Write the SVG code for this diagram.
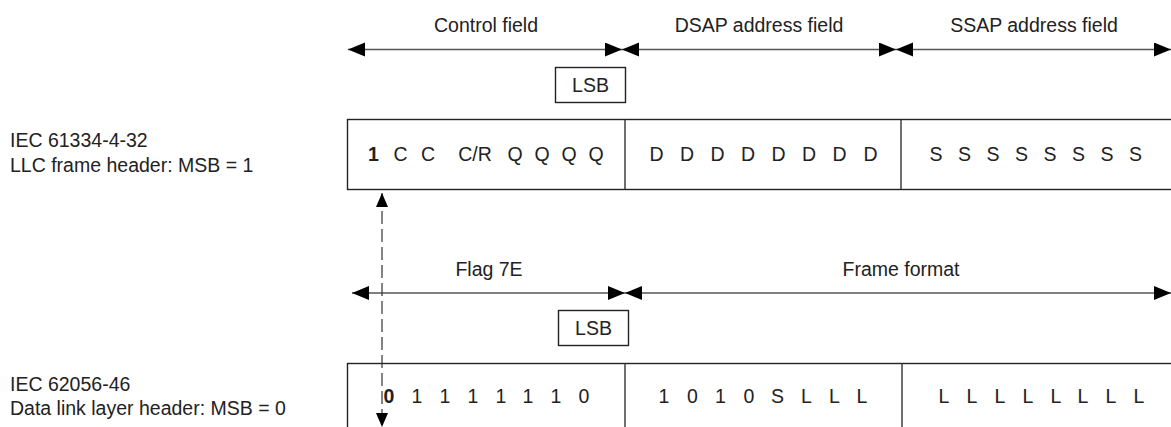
<svg xmlns="http://www.w3.org/2000/svg" width="1171" height="427" viewBox="0 0 1171 427">
<style>
text{font-family:"Liberation Sans",Arial,sans-serif;font-size:19.5px;fill:#222}
.m{text-anchor:middle}
.b{font-weight:bold}
.box{fill:#fff;stroke:#222;stroke-width:1.4}
.div{stroke:#333;stroke-width:1.4}
.arr{stroke:#555;stroke-width:1.4;fill:none;marker-start:url(#ah);marker-end:url(#ah)}
.dash{stroke:#333;stroke-width:1.2;stroke-dasharray:13 5;fill:none;marker-start:url(#ah2);marker-end:url(#ah2)}
</style>
<defs>
<marker id="ah" markerUnits="userSpaceOnUse" markerWidth="19" markerHeight="15" refX="17" refY="7" orient="auto-start-reverse" viewBox="0 0 19 15">
<path d="M0,0 L17,7 L0,14 z" fill="#000"/>
</marker>
<marker id="ah2" markerUnits="userSpaceOnUse" markerWidth="15" markerHeight="13" refX="14" refY="6" orient="auto-start-reverse" viewBox="0 0 15 13">
<path d="M0,0 L14,6 L0,12 z" fill="#000"/>
</marker>
</defs>

<g id="labels-left">
<text x="10" y="147">IEC 61334-4-32</text>
<text x="10" y="172">LLC frame header: MSB = 1</text>
<text x="10" y="391">IEC 62056-46</text>
<text x="10" y="415">Data link layer header: MSB = 0</text>
</g>

<g id="field-labels-top">
<text class="m" x="486" y="32">Control field</text>
<text class="m" x="759" y="32">DSAP address field</text>
<text class="m" x="1034" y="32">SSAP address field</text>
</g>

<g id="lsb-top">
<rect class="box" x="555.5" y="67.5" width="70" height="35"/>
<text class="m" x="590.5" y="92">LSB</text>
</g>

<g id="llc-header">
<rect class="box" x="347.5" y="119.5" width="830" height="70"/>
<line class="div" x1="625" y1="119.5" x2="625" y2="189.5"/>
<line class="div" x1="901" y1="119.5" x2="901" y2="189.5"/>
<text class="m b" x="373.5" y="161">1</text>
<text class="m" x="400.5" y="161">C</text>
<text class="m" x="428" y="161">C</text>
<text class="m" x="475" y="161">C/R</text>
<text class="m" x="515" y="161">Q</text>
<text class="m" x="542" y="161">Q</text>
<text class="m" x="569" y="161">Q</text>
<text class="m" x="596" y="161">Q</text>
<text class="m" x="656.5" y="161">D</text>
<text class="m" x="687" y="161">D</text>
<text class="m" x="717.5" y="161">D</text>
<text class="m" x="748" y="161">D</text>
<text class="m" x="778.5" y="161">D</text>
<text class="m" x="809" y="161">D</text>
<text class="m" x="839.5" y="161">D</text>
<text class="m" x="870.5" y="161">D</text>
<text class="m" x="936" y="161">S</text>
<text class="m" x="964.5" y="161">S</text>
<text class="m" x="993" y="161">S</text>
<text class="m" x="1021.5" y="161">S</text>
<text class="m" x="1050" y="161">S</text>
<text class="m" x="1078.5" y="161">S</text>
<text class="m" x="1107" y="161">S</text>
<text class="m" x="1135.5" y="161">S</text>
</g>

<g id="field-labels-bottom">
<text class="m" x="489" y="276">Flag 7E</text>
<text class="m" x="901" y="276">Frame format</text>
</g>

<g id="lsb-bottom">
<rect class="box" x="558.5" y="310.5" width="70" height="35"/>
<text class="m" x="593.5" y="335">LSB</text>
</g>

<g id="dl-header">
<rect class="box" x="347.5" y="363.5" width="830" height="80"/>
<line class="div" x1="625" y1="363.5" x2="625" y2="427"/>
<line class="div" x1="902" y1="363.5" x2="902" y2="427"/>
<text class="m b" x="389" y="403">0</text>
<text class="m" x="417" y="403">1</text>
<text class="m" x="445" y="403">1</text>
<text class="m" x="473" y="403">1</text>
<text class="m" x="501" y="403">1</text>
<text class="m" x="528" y="403">1</text>
<text class="m" x="556" y="403">1</text>
<text class="m" x="584" y="403">0</text>
<text class="m" x="664" y="403">1</text>
<text class="m" x="692.5" y="403">0</text>
<text class="m" x="720.5" y="403">1</text>
<text class="m" x="749" y="403">0</text>
<text class="m" x="777.5" y="403">S</text>
<text class="m" x="806.5" y="403">L</text>
<text class="m" x="834.5" y="403">L</text>
<text class="m" x="862" y="403">L</text>
<text class="m" x="944" y="403">L</text>
<text class="m" x="972" y="403">L</text>
<text class="m" x="1000" y="403">L</text>
<text class="m" x="1028" y="403">L</text>
<text class="m" x="1056" y="403">L</text>
<text class="m" x="1083" y="403">L</text>
<text class="m" x="1111" y="403">L</text>
<text class="m" x="1139" y="403">L</text>
</g>

<g id="connectors">
<line class="arr" x1="348" y1="49.5" x2="622" y2="49.5"/>
<line class="arr" x1="622" y1="49.5" x2="896" y2="49.5"/>
<line class="arr" x1="896" y1="49.5" x2="1171" y2="49.5"/>
<line class="arr" x1="352" y1="293" x2="625" y2="293"/>
<line class="arr" x1="625" y1="293" x2="1171" y2="293"/>
<line class="dash" x1="382" y1="193" x2="382" y2="427"/>
</g>
</svg>
